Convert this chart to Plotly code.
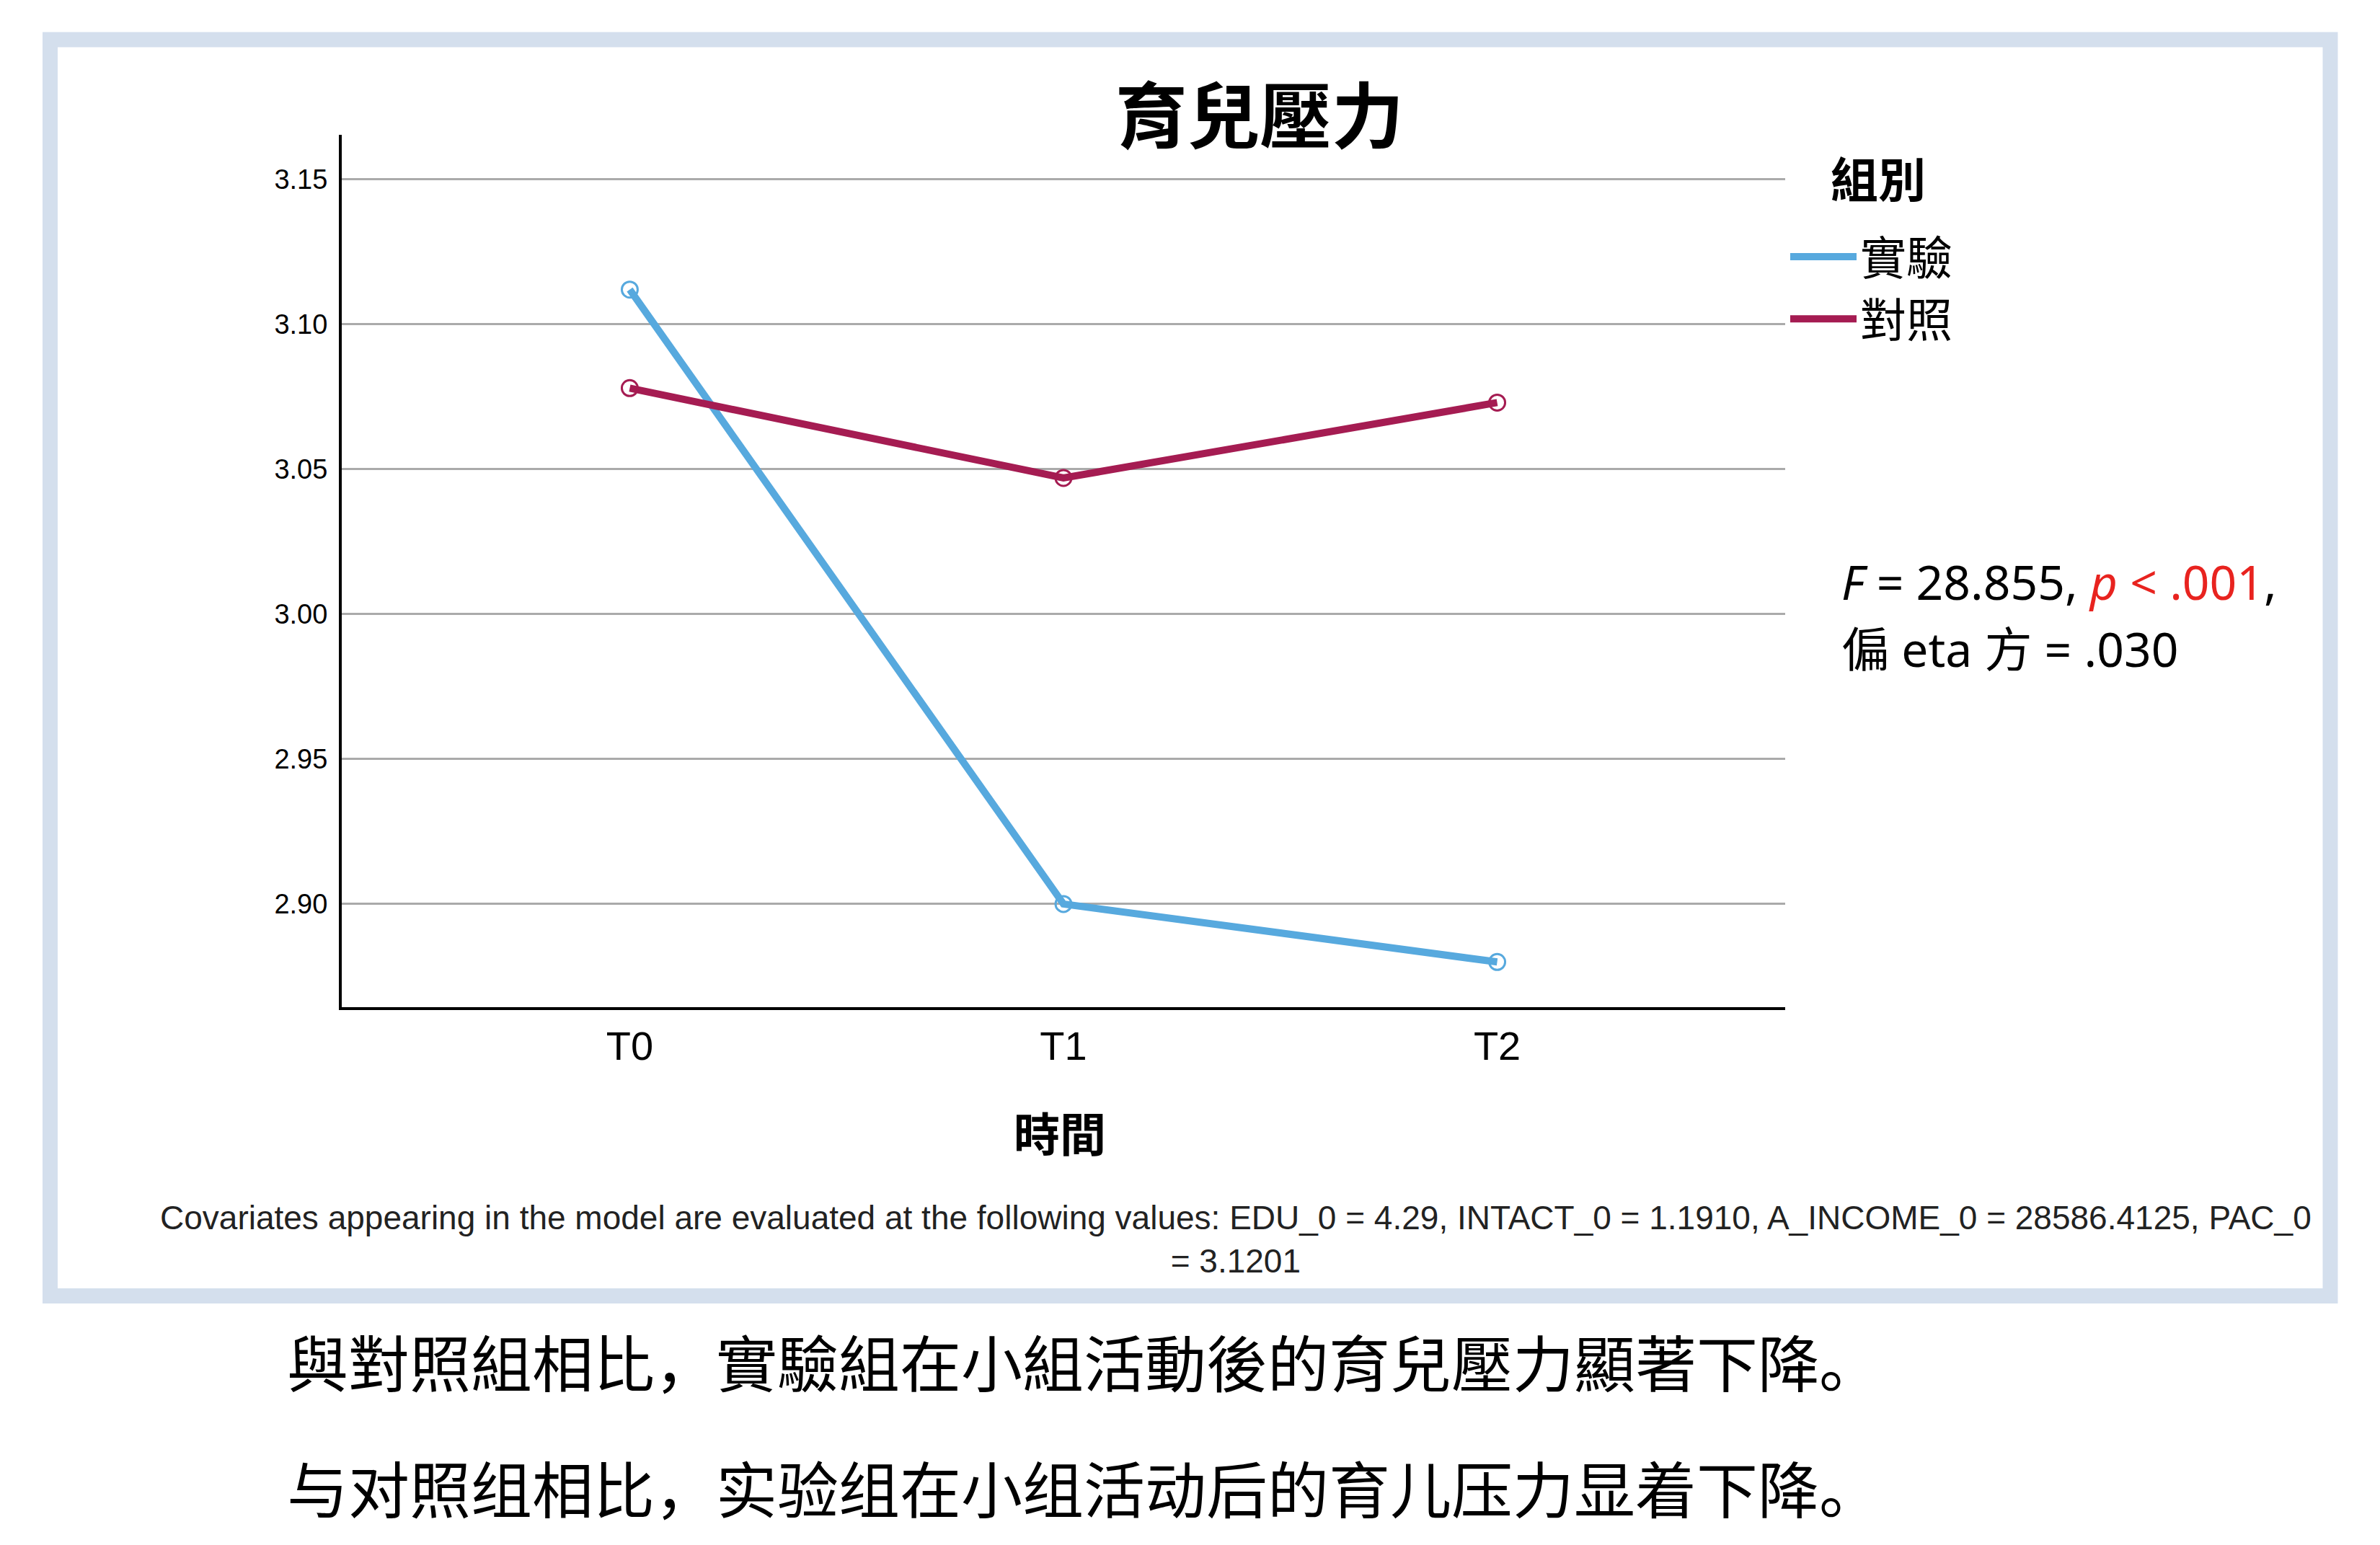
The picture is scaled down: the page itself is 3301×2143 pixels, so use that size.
import plotly.graph_objects as go

# ---- data ----
categories = ["T0", "T1", "T2"]
group_names = ["實驗", "對照"]
exp_means = [3.112, 2.900, 2.880]
ctrl_means = [3.078, 3.047, 3.073]
y_ticks = [2.90, 2.95, 3.00, 3.05, 3.10, 3.15]
y_tick_labels = ["2.90", "2.95", "3.00", "3.05", "3.10", "3.15"]

W, H = 3301, 2143


def px(x):
    return x / W


def py(y):
    return 1 - y / H


colors = ["#57a9de", "#a51c52"]
series = [exp_means, ctrl_means]

SANS = "Liberation Sans, Arial, sans-serif"
CJK_TC = "Noto Sans CJK TC"
CJK_SC = "Noto Sans CJK SC"

fig = go.Figure()
for name, vals, c in zip(group_names, series, colors):
    fig.add_trace(go.Scatter(
        x=categories, y=vals, mode="lines", name=name,
        line=dict(color=c, width=10),
    ))
for name, vals, c in zip(group_names, series, colors):
    fig.add_trace(go.Scatter(
        x=categories, y=vals, mode="markers", name=name, showlegend=False,
        marker=dict(symbol="circle-open", size=22, color=c, line=dict(width=3, color=c)),
    ))

sc_punct = "<span style='font-family:Noto Sans CJK SC'>{}</span>"
line_tc = ("與對照組相比" + sc_punct.format("，") + "實驗組在小組活動後的育兒壓力顯著下降"
           + sc_punct.format("。"))

annotations = [
    dict(text="<b>育兒壓力</b>", x=px(1747), y=py(155), font=dict(size=100, family=CJK_TC, color="black")),
    dict(text="<b>組別</b>", x=px(2537), y=py(245), xanchor="left",
         font=dict(size=66, family=CJK_TC, color="black")),
    dict(text="<b>時間</b>", x=px(1470), y=py(1569), font=dict(size=64, family=CJK_TC, color="black")),
    dict(text=("Covariates appearing in the model are evaluated at the following values: "
               "EDU_0 = 4.29, INTACT_0 = 1.1910, A_INCOME_0 = 28586.4125, PAC_0<br>= 3.1201"),
         x=px(1714), y=py(1719), align="center",
         font=dict(size=46, family=SANS, color="#222222")),
    dict(text="<i>F</i> = 28.855, <span style='color:#e8231f'><i>p</i> &lt; .001</span>,",
         x=px(2552), y=py(806), xanchor="left",
         font=dict(size=66, family="Noto Sans, Noto Sans CJK TC", color="black")),
    dict(text="偏 eta 方 = .030",
         x=px(2552), y=py(899), xanchor="left",
         font=dict(size=66, family="Noto Sans, Noto Sans CJK TC", color="black")),
    dict(text=line_tc,
         x=px(396), y=py(1886), xanchor="left",
         font=dict(size=85, family=CJK_TC, color="black")),
    dict(text="与对照组相比，实验组在小组活动后的育儿压力显着下降。",
         x=px(396), y=py(2061), xanchor="left",
         font=dict(size=85, family=CJK_SC, color="black")),
]
for a in annotations:
    a.update(xref="paper", yref="paper", showarrow=False)
    a.setdefault("xanchor", "center")
    a.setdefault("yanchor", "middle")

fig.update_layout(
    width=W, height=H,
    margin=dict(l=0, r=0, t=0, b=0),
    paper_bgcolor="white", plot_bgcolor="white",
    annotations=annotations,
    shapes=[dict(type="rect", xref="paper", yref="paper",
                 x0=px(69.5), y0=py(55), x1=px(3232), y1=py(1797.5),
                 line=dict(color="#d4dfed", width=21), layer="below")],
    legend=dict(x=px(2478), y=py(308), xanchor="left", yanchor="top",
                font=dict(size=64, family=CJK_TC, color="black"),
                itemwidth=92, bgcolor="rgba(0,0,0,0)", tracegroupgap=0),
    xaxis=dict(domain=[px(474), px(2476)], range=[-0.664, 2.664],
               showline=True, linecolor="black", linewidth=4,
               showgrid=False, zeroline=False, ticks="",
               tickfont=dict(size=56, family=SANS, color="black"),
               ticklabelstandoff=2),
    yaxis=dict(domain=[py(1397), py(187)], range=[2.8644, 3.1654],
               tickvals=y_ticks, ticktext=y_tick_labels,
               showline=True, linecolor="black", linewidth=4,
               showgrid=True, gridcolor="#aaaaaa", gridwidth=3,
               zeroline=False, ticks="",
               tickfont=dict(size=38, family=SANS, color="black"),
               ticklabelstandoff=8),
)

fig.write_html("out.html")
